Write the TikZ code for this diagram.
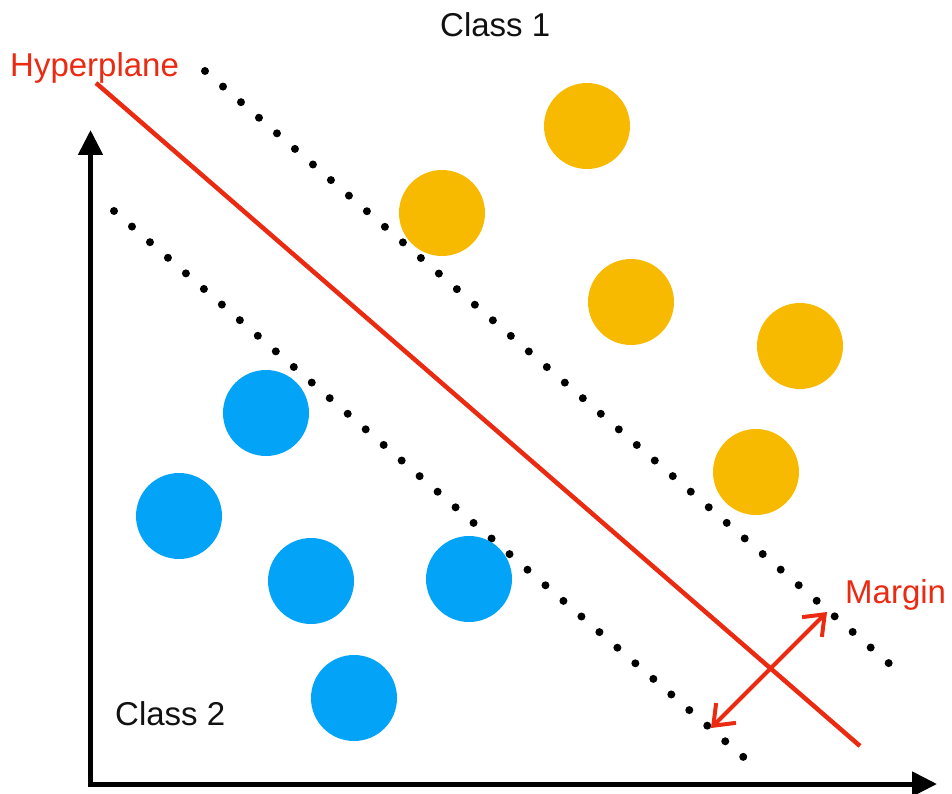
\documentclass[tikz,border=0pt]{standalone}
\usepackage{fontspec}
\setmainfont{Liberation Sans}
\usepackage{xcolor}
\usetikzlibrary{arrows.meta}
\definecolor{planered}{HTML}{EB2A12}
\definecolor{classone}{HTML}{F7BA00}
\definecolor{classtwo}{HTML}{03A3F8}
\definecolor{textmain}{HTML}{111111}

\begin{document}
\begin{tikzpicture}[
    x=1pt, y=-1pt,
    dot/.style={circle, minimum size=86pt, inner sep=0pt},
    dotone/.style={dot, fill=classone},
    dottwo/.style={dot, fill=classtwo},
    axis/.style={line width=5pt, -{Triangle[length=25pt, width=24pt]}},
    plane/.style={line width=4.5pt, planered},
    support/.style={line width=8pt, line cap=round, dash pattern=on 0pt off 23.8pt},
    marginarrow/.style={line width=4pt, planered, {Straight Barb[length=18pt, width=28pt, line width=4pt]}-{Straight Barb[length=18pt, width=28pt, line width=4pt]}},
    label/.style={font=\fontsize{33}{40}\selectfont, anchor=base west, inner sep=0pt}
  ]
    \useasboundingbox (0,0) rectangle (952,794);

    % axes
    \coordinate (origin) at (90.5,784);
    \coordinate (ytop) at (90.5,130);
    \coordinate (xend) at (937,784);
    \draw[axis] (origin) -- (ytop);
    \draw[axis] ([xshift=-2.5pt]origin) -- (xend);

    % hyperplane and margins
    \coordinate (hpstart) at (96,83);
    \coordinate (hpend) at (860,746);
    \draw[plane] (hpstart) -- (hpend);
    \coordinate (upstart) at (205,71);
    \coordinate (upend) at (892,666);
    \draw[support] (upstart) -- (upend);
    \coordinate (lowstart) at (114,211);
    \coordinate (lowend) at (748,761);
    \draw[support] (lowstart) -- (lowend);

    % class 1
    \node[dotone] (a1) at (587,126) {};
    \node[dotone] (a2) at (442,213) {};
    \node[dotone] (a3) at (631,302) {};
    \node[dotone] (a4) at (800,346) {};
    \node[dotone] (a5) at (756,472) {};

    % class 2
    \node[dottwo] (b1) at (266,413) {};
    \node[dottwo] (b2) at (179,516) {};
    \node[dottwo] (b3) at (311,581) {};
    \node[dottwo] (b4) at (469,579) {};
    \node[dottwo] (b5) at (354,698) {};

    % margin arrow
    \coordinate (mlow) at (711,728);
    \coordinate (mup) at (827,612);
    \draw[marginarrow] (mlow) -- (mup);

    % labels
    \node[label, text=textmain] (classonelbl) at (440,37) {Class 1};
    \node[label, text=textmain] (classtwolbl) at (115,725) {Class 2};
    \node[label, text=planered] (planelbl) at (10,77) {Hyperplane};
    \node[label, text=planered] (marginlbl) at (845,603) {Margin};
\end{tikzpicture}
\end{document}
